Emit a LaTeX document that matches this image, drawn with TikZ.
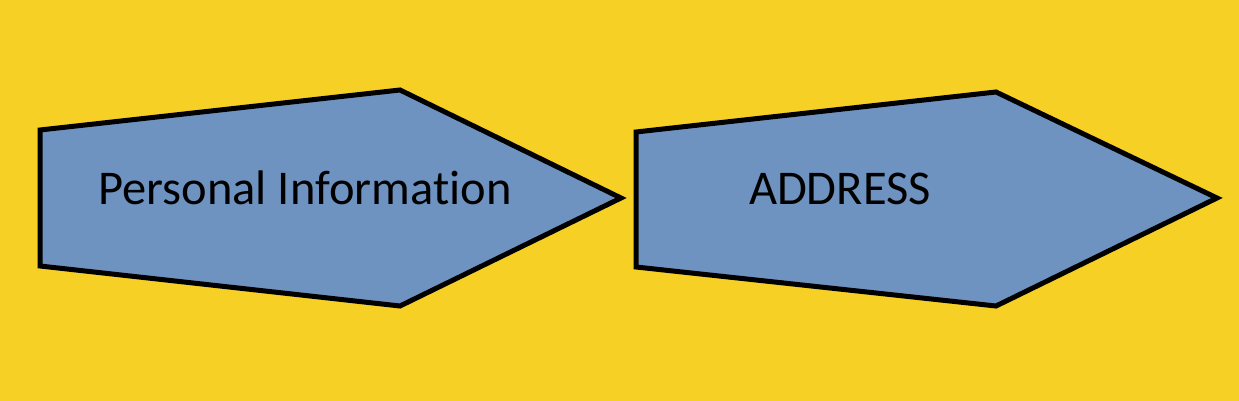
\documentclass[tikz,border=0pt]{standalone}
\usepackage{fontspec}
\setmainfont{Carlito}[Ligatures=NoCommon]
\usepackage{tikz}
\usetikzlibrary{positioning}
\definecolor{bgyellow}{HTML}{F6D025}
\definecolor{tagblue}{HTML}{6E93C0}
\tikzset{
  tag/.style={draw=black,fill=tagblue,line width=5pt,line join=miter},
  tagtext/.style={font=\fontsize{48.5}{58}\selectfont,inner sep=0pt,anchor=base}
}
\begin{document}
\begin{tikzpicture}[x=1pt,y=-1pt]
        \fill[bgyellow] (0,0) rectangle (1239,401);
        \useasboundingbox (0,0) rectangle (1239,401);

        \draw[tag] (40,130) -- (400,90) -- (621,198) -- (400,306) -- (40,266) -- cycle;
        \draw[tag] (636,132) -- (996,92) -- (1217,198) -- (996,306) -- (636,267) -- cycle;

        \node[tagtext](personal) at (305,204) {Personal Information};
        \node[tagtext](address) at (840,204) {ADDRESS};
      \end{tikzpicture}
\end{document}
